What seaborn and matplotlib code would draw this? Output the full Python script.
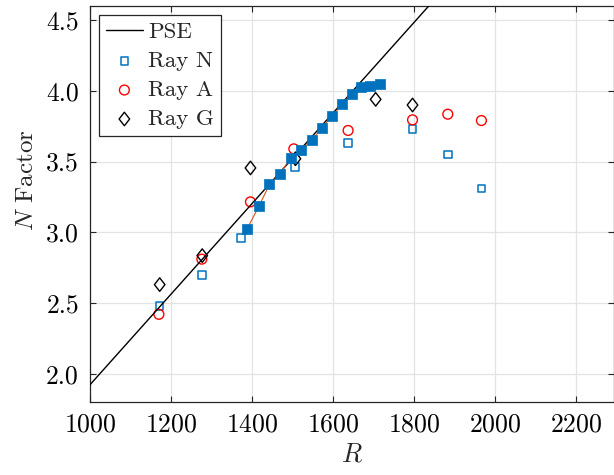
import matplotlib
matplotlib.use("Agg")
import matplotlib.pyplot as plt
import seaborn as sns
import numpy as np
import pandas as pd
from matplotlib.path import Path
from matplotlib.ticker import FormatStrFormatter

# ---- data ----
pse_R = [1000, 1900]
pse_N = [1.922, 4.805]

rayN_R = [1172, 1276, 1373, 1506, 1637, 1796, 1883, 1966]
rayN_N = [2.48, 2.70, 2.96, 3.46, 3.63, 3.73, 3.55, 3.31]

rayA_R = [1170, 1276, 1396, 1503, 1637, 1796, 1883, 1966]
rayA_N = [2.42, 2.81, 3.215, 3.59, 3.72, 3.795, 3.835, 3.79]

rayG_R = [1172, 1277, 1396, 1507, 1705, 1796]
rayG_N = [2.63, 2.835, 3.455, 3.52, 3.94, 3.90]

sol_R = [1388, 1417, 1443, 1469, 1495, 1521, 1547, 1572, 1598, 1623, 1646, 1670, 1692, 1715]
sol_N = [3.026, 3.185, 3.338, 3.413, 3.526, 3.580, 3.650, 3.737, 3.824, 3.908, 3.979, 4.026, 4.035, 4.049]

xticks = [1000, 1200, 1400, 1600, 1800, 2000, 2200]
yticks = [2.0, 2.5, 3.0, 3.5, 4.0, 4.5]

sns.set_style("ticks")
plt.rcParams['font.family'] = ['cmr10', 'DejaVu Serif']
plt.rcParams['mathtext.fontset'] = 'cm'
plt.rcParams['axes.formatter.use_mathtext'] = True
plt.rcParams['axes.unicode_minus'] = False

fig = plt.figure(figsize=(6.14, 4.75), dpi=100)
ax = fig.add_axes([90/614, 1-402/475, 523.5/614, 396/475])

blue = '#0072BD'
red = '#FF0000'
orange = '#D95319'

df_pse = pd.DataFrame({'R': pse_R, 'N': pse_N})
df_n = pd.DataFrame({'R': rayN_R, 'N': rayN_N})
df_a = pd.DataFrame({'R': rayA_R, 'N': rayA_N})
df_g = pd.DataFrame({'R': rayG_R, 'N': rayG_N})
df_s = pd.DataFrame({'R': sol_R, 'N': sol_N})

diamond = Path([(0, 1), (0.78, 0), (0, -1), (-0.78, 0), (0, 1)],
               [Path.MOVETO, Path.LINETO, Path.LINETO, Path.LINETO, Path.CLOSEPOLY])

sns.lineplot(data=df_pse, x='R', y='N', ax=ax, color='black', linewidth=1.0,
             label='PSE', zorder=4)
sns.scatterplot(data=df_n, x='R', y='N', ax=ax, marker='s', s=30,
                facecolors='none', edgecolor=blue, linewidth=1.1,
                label='Ray N', zorder=3)
sns.scatterplot(data=df_a, x='R', y='N', ax=ax, marker='o', s=50,
                facecolors='none', edgecolor=red, linewidth=1.0,
                label='Ray A', zorder=3)
sns.scatterplot(data=df_g, x='R', y='N', ax=ax, marker=diamond, s=95,
                facecolors='none', edgecolor='black', linewidth=1.0,
                label='Ray G', zorder=3)
sns.lineplot(data=df_s, x='R', y='N', ax=ax, color=orange, linewidth=0.8,
             zorder=5, legend=False, sort=False)
sns.scatterplot(data=df_s, x='R', y='N', ax=ax, marker='s', s=62,
                color=blue, edgecolor=blue, linewidth=0.5, zorder=6,
                legend=False)

ax.set_xlim(1000, 2292)
ax.set_ylim(1.8, 4.6)
ax.set_xticks(xticks)
ax.set_yticks(yticks)
ax.yaxis.set_major_formatter(FormatStrFormatter('%.1f'))
ax.grid(True, color='#e3e3e3', linewidth=0.9)
ax.set_axisbelow(True)
ax.tick_params(direction='in', length=4, width=0.8, top=True, right=True,
               labelsize=18.5, colors='#262626', labelcolor='black')
ax.tick_params(axis='x', pad=8)
ax.tick_params(axis='y', pad=8)
for sp in ax.spines.values():
    sp.set_visible(True)
    sp.set_color('#262626')
    sp.set_linewidth(0.9)

ax.set_xlabel('$R$', fontsize=19, labelpad=4)
ax.set_ylabel('$N$ Factor', fontsize=18)
ax.yaxis.set_label_coords((38 - 90) / 523.5, (402 - 180) / 396)

h, l = ax.get_legend_handles_labels()
leg = ax.legend(h, l, loc='upper left', fontsize=16.5, frameon=True,
                fancybox=False, edgecolor='#262626', framealpha=1,
                labelspacing=0.39, handlelength=1.6, handletextpad=0.25,
                borderpad=0.3, borderaxespad=0.4)
leg.get_frame().set_linewidth(0.9)

fig.savefig('out.png', dpi=100)
